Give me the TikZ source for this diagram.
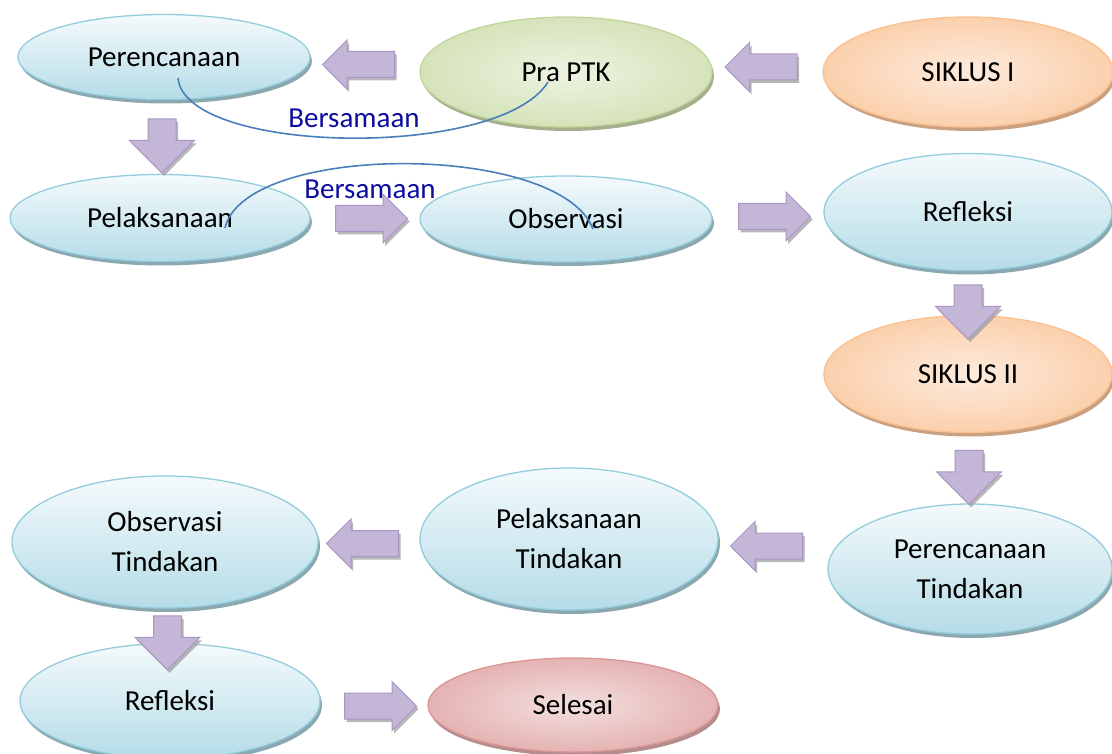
\documentclass[tikz,border=0pt]{standalone}
\usepackage{fontspec}
\setmainfont{Carlito}
\usetikzlibrary{shapes.geometric,shapes.arrows,shadows,calc}

\definecolor{birugaris}{HTML}{93CDDD}
\definecolor{birumuda}{HTML}{F4FAFC}
\definecolor{birutua}{HTML}{B5DCE7}
\definecolor{birubayang}{HTML}{8BA8B0}
\definecolor{oranyegaris}{HTML}{FAC08F}
\definecolor{oranyemuda}{HTML}{FDEBDD}
\definecolor{oranyetua}{HTML}{FBD0AC}
\definecolor{oranyebayang}{HTML}{C9A181}
\definecolor{hijaugaris}{HTML}{C3D69B}
\definecolor{hijaumuda}{HTML}{EDF3E1}
\definecolor{hijautua}{HTML}{D5E3BA}
\definecolor{hijaubayang}{HTML}{A4AF8B}
\definecolor{merahgaris}{HTML}{D99694}
\definecolor{merahmuda}{HTML}{F3DFDE}
\definecolor{merahtua}{HTML}{E4B3B2}
\definecolor{merahbayang}{HTML}{B48D8C}
\definecolor{ungugaris}{HTML}{A996C6}
\definecolor{ungutua}{HTML}{C3B6D6}
\definecolor{ungumuda}{HTML}{EEEBF4}
\definecolor{garisbiru}{HTML}{4A7EBB}
\definecolor{tulisanbiru}{HTML}{0C0CA0}

\tikzset{
  bulat/.style={ellipse, inner sep=0pt, align=center, line width=1.3pt,
    font=\fontsize{29}{40}\selectfont},
  biru/.style={bulat, draw=birugaris, top color=birumuda, bottom color=birutua,
    drop shadow={shadow xshift=2pt, shadow yshift=-4pt, fill=birubayang, opacity=1}},
  oranye/.style={bulat, draw=oranyegaris, inner color=oranyemuda, outer color=oranyetua,
    drop shadow={shadow xshift=2pt, shadow yshift=-4pt, fill=oranyebayang, opacity=1}},
  hijau/.style={bulat, draw=hijaugaris, inner color=hijaumuda, outer color=hijautua,
    drop shadow={shadow xshift=2pt, shadow yshift=-4pt, fill=hijaubayang, opacity=1}},
  merah/.style={bulat, draw=merahgaris, inner color=merahmuda, outer color=merahtua,
    drop shadow={shadow xshift=2pt, shadow yshift=-4pt, fill=merahbayang, opacity=1}},
  panah/.style={single arrow, draw=ungugaris, line width=1pt,
    single arrow head indent=0pt,
    drop shadow={shadow xshift=2pt, shadow yshift=-3pt, fill=black!40, opacity=.7}},
  kiri/.style={panah, shape border rotate=180, inner xsep=0pt, inner ysep=12.5pt,
    minimum height=72pt, minimum width=48pt, single arrow head extend=11.5pt,
    top color=ungutua, middle color=ungumuda, bottom color=ungutua},
  kanan/.style={kiri, shape border rotate=0},
  bawah/.style={panah, shape border rotate=270, inner xsep=13.5pt, inner ysep=0pt,
    minimum height=54pt, minimum width=64pt, single arrow head extend=18.5pt,
    left color=ungutua, middle color=ungumuda, right color=ungutua},
  bersama/.style={garisbiru, line width=1.6pt},
  ket/.style={text=tulisanbiru, font=\fontsize{29}{34}\selectfont},
}

\begin{document}
\begin{tikzpicture}[x=1pt,y=-1pt]
  \useasboundingbox (0,0) rectangle (1112,754);

  % Siklus I
  \node[biru, minimum width=292pt, minimum height=85pt] (per) at (164,57) {Perencanaan};
  \node[hijau, minimum width=292pt, minimum height=110pt] (pra) at (566,72) {Pra PTK};
  \node[oranye, minimum width=290pt, minimum height=110pt] (sik1) at (968,72) {SIKLUS I};
  \node[biru, minimum width=300pt, minimum height=87pt] (pel) at (160,218) {Pelaksanaan};
  \node[biru, minimum width=292pt, minimum height=86pt] (obs) at (566,219) {Observasi};
  \node[biru, minimum width=288pt, minimum height=117pt] (ref) at (968,212) {Refleksi};

  % Siklus II
  \node[oranye, minimum width=288pt, minimum height=117pt] (sik2) at (968,374) {SIKLUS II};
  \node[biru, minimum width=284pt, minimum height=130pt] (pert) at (970,569) {Perencanaan\\Tindakan};
  \node[biru, minimum width=298pt, minimum height=142pt] (pelt) at (569,539) {Pelaksanaan\\Tindakan};
  \node[biru, minimum width=306pt, minimum height=132pt] (obst) at (165,542) {Observasi\\Tindakan};
  \node[biru, minimum width=300pt, minimum height=115pt] (ref2) at (170,701) {Refleksi};
  \node[merah, minimum width=290pt, minimum height=94pt] (sel) at (573,705) {Selesai};

  % Panah
  \foreach \nama/\dari/\ke/\gaya/\dy in {
      a1/per.east/pra.west/kiri/0,
      a2/pra.east/sik1.west/kiri/-5,
      a3/per.south/pel.north/bawah/2,
      a4/pel.east/obs.west/kanan/0,
      a5/obs.east/ref.west/kanan/1,
      a6/ref.south/sik2.north/bawah/12,
      a7/sik2.south/pert.north/bawah/2,
      a8/pert.west/pelt.east/kiri/-8,
      a9/pelt.west/obst.east/kiri/3,
      a10/obst.south/ref2.north/bawah/10,
      a11/ref2.east/sel.west/kanan/3
  } {
      \node[\gaya] (\nama) at ($(\dari)!.5!(\ke)+(0,\dy)$) {};
  }

  % Bersamaan
  \coordinate (b1) at ($(per.center)+(14,21)$);
  \coordinate (b2) at ($(pra.center)+(-18,10)$);
  \draw[bersama] (b1) .. controls (185,155) and (500,160) .. (b2);
  \node[ket] (k1) at (354,118) {Bersamaan};

  \coordinate (b3) at ($(pel.center)+(65,10)$);
  \coordinate (b4) at ($(obs.center)+(27,10)$);
  \draw[bersama] (b3) .. controls (245,142) and (560,142) .. (b4);
  \node[ket] (k2) at (370,189) {Bersamaan};
\end{tikzpicture}
\end{document}
